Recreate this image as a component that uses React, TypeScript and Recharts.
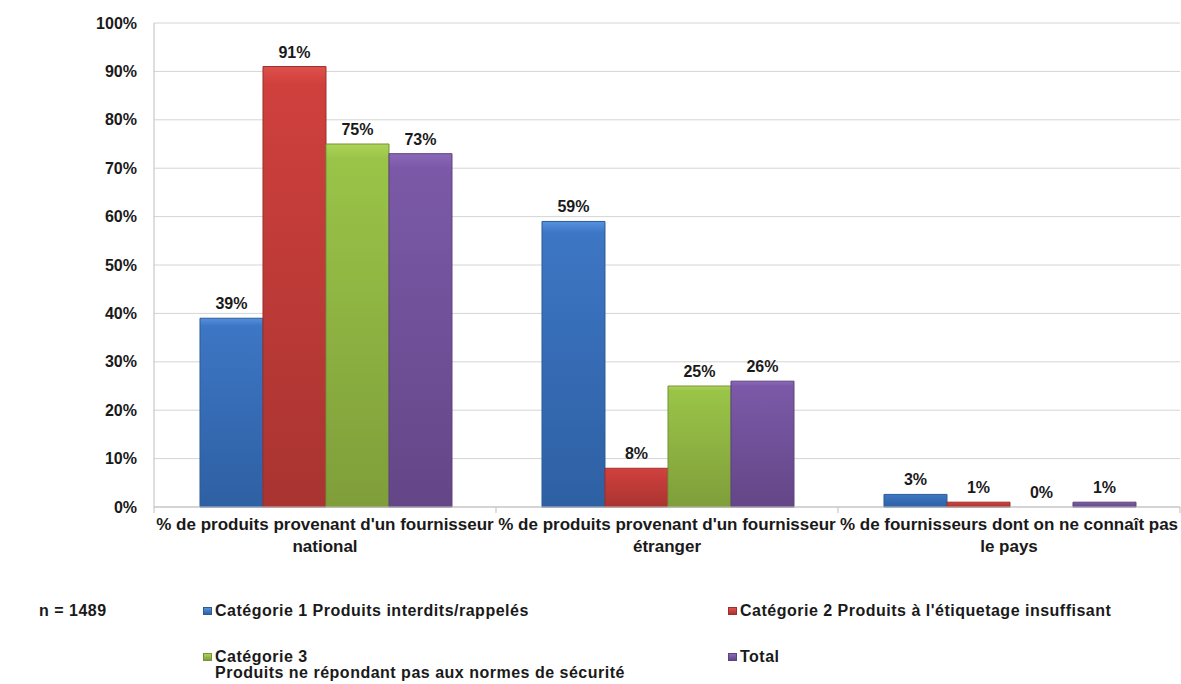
import React from "react";
import { BarChart, Bar, XAxis, YAxis, CartesianGrid, LabelList, Rectangle } from "recharts";

const categories = [
  "% de produits provenant d'un fournisseur\nnational",
  "% de produits provenant d'un fournisseur\nétranger",
  "% de fournisseurs dont on ne connaît pas\nle pays",
];
const cat1 = [39, 59, 2.6];
const cat2 = [91, 8, 1];
const cat3 = [75, 25, 0];
const total = [73, 26, 1];
const yTicks = [0, 10, 20, 30, 40, 50, 60, 70, 80, 90, 100];
const seriesNames = [
  "Catégorie 1 Produits interdits/rappelés",
  "Catégorie 2 Produits à l'étiquetage insuffisant",
  "Catégorie 3\nProduits ne répondant pas aux normes de sécurité",
  "Total",
];
const sampleNote = "n = 1489";

const data = categories.map((c, i) => ({
  name: c,
  c1: cat1[i],
  c2: cat2[i],
  c3: cat3[i],
  tot: total[i],
}));

const FONT = "'Liberation Sans', Arial, sans-serif";

const colors = [
  { id: "gBlue", top: "#5592de", mid: "#3d76c4", bot: "#2e60a3", stroke: "#2c5b98" },
  { id: "gRed", top: "#e0504c", mid: "#cf403d", bot: "#a93431", stroke: "#9a2f2c" },
  { id: "gGreen", top: "#acd457", mid: "#9ac448", bot: "#7f9e3a", stroke: "#76933a" },
  { id: "gPurple", top: "#8c68b8", mid: "#7b59a8", bot: "#644687", stroke: "#5d437c" },
];
const keys = ["c1", "c2", "c3", "tot"];

const CatTick = (props: any) => {
  const { x, payload, index, visibleTicksCount } = props;
  const half = payload && payload.offset ? payload.offset : 171;
  const lines = String(payload.value).split("\n");
  const axisY = 507;
  const isLast = index === (visibleTicksCount ? visibleTicksCount - 1 : 2);
  return (
    <g>
      <line x1={x - half} x2={x - half} y1={axisY} y2={axisY + 6} stroke="#bfbfbf" />
      {isLast && <line x1={x + half} x2={x + half} y1={axisY} y2={axisY + 6} stroke="#bfbfbf" />}
      <text textAnchor="middle" fontFamily={FONT} fontWeight="bold" fontSize={17} fill="#1a1a1a">
        {lines.map((l, i) => (
          <tspan key={i} x={x} y={axisY + 23 + i * 22}>
            {l}
          </tspan>
        ))}
      </text>
    </g>
  );
};

const fmt = (v: any) => `${Math.round(Number(v))}%`;

const BarShape = (props: any) => {
  const { value, height } = props;
  const v = Array.isArray(value) ? value[1] - value[0] : value;
  if (!v || Math.abs(height) < 0.5) return <g />;
  return <Rectangle {...props} />;
};

const Legend2 = () => {
  const item = (i: number, left: number, top: number) => {
    const lines = seriesNames[i].split("\n");
    return (
      <div key={i} style={{ position: "absolute", left, top, display: "flex", alignItems: "flex-start" }}>
        <div
          style={{
            width: 9,
            height: 8,
            marginTop: 4,
            marginRight: 3,
            background: `linear-gradient(${colors[i].top}, ${colors[i].bot})`,
            border: `1px solid ${colors[i].stroke}`,
            boxSizing: "border-box",
          }}
        />
        <div style={{ lineHeight: "16px" }}>
          {lines.map((l, j) => (
            <div key={j} style={{ whiteSpace: "nowrap" }}>{l}</div>
          ))}
        </div>
      </div>
    );
  };
  return (
    <div
      style={{
        position: "absolute",
        left: 0,
        top: 0,
        width: 1181,
        height: 684,
        fontFamily: FONT,
        fontSize: 16,
        letterSpacing: "0.5px",
        fontWeight: "bold",
        color: "#1a1a1a",
        pointerEvents: "none",
      }}
    >
      <div style={{ position: "absolute", left: 39, top: 603, lineHeight: "16px" }}>{sampleNote}</div>
      {item(0, 203, 603)}
      {item(1, 728, 603)}
      {item(2, 203, 649)}
      {item(3, 728, 649)}
    </div>
  );
};

export default function App() {
  return (
    <div style={{ position: "absolute", left: 0, top: 0, width: 1181, height: 684, background: "#fff", overflow: "hidden" }}>
      <BarChart
        width={1181}
        height={684}
        data={data}
        margin={{ top: 23, right: 1, left: 0, bottom: 117 }}
        barCategoryGap="13.45%"
        barGap={0}
      >
        <defs>
          {colors.map((c) => (
            <linearGradient key={c.id} id={c.id} x1="0" y1="0" x2="0" y2="1">
              <stop offset="0%" stopColor={c.top} />
              <stop offset="4%" stopColor={c.mid} />
              <stop offset="100%" stopColor={c.bot} />
            </linearGradient>
          ))}
        </defs>
        <CartesianGrid vertical={false} stroke="#d4d4d4" />
        <XAxis
          dataKey="name"
          axisLine={{ stroke: "#bfbfbf" }}
          tickLine={false}
          interval={0}
          tick={<CatTick />}
          height={60}
        />
        <YAxis
          width={154}
          domain={[0, 100]}
          ticks={yTicks}
          tickFormatter={(v) => `${v}%`}
          axisLine={{ stroke: "#bfbfbf" }}
          tickLine={false}
          tickMargin={11}
          tick={{ fontFamily: FONT, fontWeight: "bold", fontSize: 16, fill: "#1a1a1a" }}
          interval={0}
        />
        {keys.map((k, i) => (
          <Bar
            key={k}
            dataKey={k}
            fill={`url(#${colors[i].id})`}
            stroke={colors[i].stroke}
            strokeWidth={1}
            minPointSize={0.01}
            shape={<BarShape />}
            isAnimationActive={false}
          >
            <LabelList
              dataKey={k}
              position="top"
              offset={9}
              formatter={fmt}
              style={{ fontFamily: FONT, fontWeight: "bold", fontSize: 16, fill: "#1a1a1a" }}
            />
          </Bar>
        ))}
      </BarChart>
      <Legend2 />
    </div>
  );
}
